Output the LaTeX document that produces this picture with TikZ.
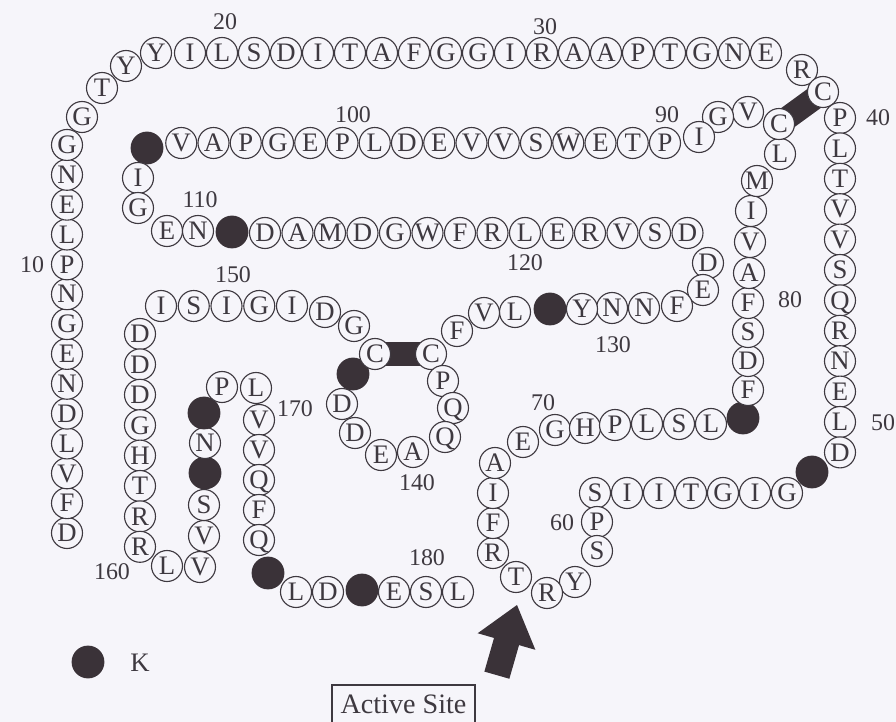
\documentclass[tikz,border=0pt]{standalone}
\usepackage{fontspec}
\setmainfont{Liberation Serif}
\usetikzlibrary{positioning}
\definecolor{paper}{RGB}{246,245,250}
\definecolor{ink}{RGB}{62,57,64}
\definecolor{dotfill}{RGB}{58,50,56}
\pgfdeclarelayer{back}
\pgfsetlayers{back,main}

\begin{document}
\begin{tikzpicture}[
  x=0.25mm,
  y=-0.25mm,
  res/.style={
    circle,
    draw=ink,
    fill=paper,
    line width=0.28mm,
    minimum size=7.75mm,
    inner sep=0pt,
    text=ink,
    font=\fontsize{19}{19}\selectfont,
    text height=4.4mm,
    text depth=0pt
  },
  lys/.style={
    circle,
    fill=dotfill,
    minimum size=8.2mm,
    inner sep=0pt
  },
  num/.style={
    text=ink,
    inner sep=0pt,
    font=\fontsize{17}{17}\selectfont
  },
  site/.style={
    draw=ink,
    line width=0.3mm,
    minimum width=35.75mm,
    minimum height=9.5mm,
    inner sep=0pt,
    text=ink,
    font=\fontsize{20}{20}\selectfont
  },
  ssbond/.style={
    line width=5.8mm,
    draw=dotfill
  },
  pointer/.style={
    fill=dotfill
  }
]

\begin{pgfonlayer}{back}
\fill[paper] (0,0) rectangle (896,722);
\end{pgfonlayer}
\useasboundingbox (0,0) rectangle (896,722);

% =========================================================
% Chain, residues 1-59
% =========================================================

% ---------------- N-terminal column ----------------
\foreach \n/\aa in {1/D,2/F,3/V,4/L,5/D,6/N,7/E,8/G,9/N,10/P,11/L,12/E,13/N,14/G}
  \node[res] (r\n) at (67,{533-(\n-1)*29.85}) {\aa};

\foreach \n/\aa/\x/\y in {15/G/82/117,16/T/102/88,17/Y/126/66,18/Y/156/53}
  \node[res] (r\n) at (\x,\y) {\aa};

% ---------------- top row ----------------
\foreach \n/\aa in {19/I,20/L,21/S,22/D,23/I,24/T,25/A,26/F,27/G,28/G,29/I,
                    30/R,31/A,32/A,33/P,34/T,35/G,36/N,37/E}
  \node[res] (r\n) at ({190+(\n-19)*32},53) {\aa};

\node[res] (r38) at (802,70) {R};
\node[res] (r39) at (823,92) {C};

% ---------------- right column ----------------
\foreach \n/\aa in {40/P,41/L,42/T,43/V,44/V,45/S,46/Q,47/R,48/N,49/E,50/L,51/D}
  \node[res] (r\n) at (840,{118+(\n-40)*30.4}) {\aa};

\node[lys] (r52) at (812,472) {};

\foreach \n/\aa in {53/G,54/I,55/G,56/T,57/I,58/I,59/S}
  \node[res] (r\n) at ({787-(\n-53)*32},493) {\aa};

% =========================================================
% Active site loop, residues 60-89
% =========================================================

\foreach \n/\aa/\x/\y in {60/P/597/522,61/S/597/551,62/Y/575/582,63/R/547/593,
                          64/T/516/577,65/R/493/553,66/F/493/523,67/I/493/493,
                          68/A/495/463,69/E/523/442,70/G/555/430,71/H/585/428,
                          72/P/615/425,73/L/647/424,74/S/679/424,75/L/711/424}
  \node[res] (r\n) at (\x,\y) {\aa};

\node[lys] (r76) at (743,418) {};

\foreach \n/\aa/\x/\y in {77/F/748/390,78/D/748/361,79/S/748/332,80/F/748/303,
                          81/A/749/273,82/V/750/242,83/I/751/211,84/M/757/181,
                          85/L/780/154,86/C/779/124,87/V/748/112,88/G/718/117,
                          89/I/699/137}
  \node[res] (r\n) at (\x,\y) {\aa};

% =========================================================
% Inner rows, residues 90-135
% =========================================================

\foreach \n/\aa in {90/P,91/T,92/E,93/W,94/S,95/V,96/V,97/E,98/D,99/L,
                    100/P,101/E,102/G,103/P,104/A,105/V}
  \node[res] (r\n) at ({665-(\n-90)*32.25},143) {\aa};

\node[lys] (r106) at (147,148) {};

\foreach \n/\aa/\x/\y in {107/I/138/178,108/G/138/208,109/E/167/231,110/N/198/231}
  \node[res] (r\n) at (\x,\y) {\aa};

\node[lys] (r111) at (232,232) {};

\foreach \n/\aa in {112/D,113/A,114/M,115/D,116/G,117/W,118/F,119/R,120/L,
                    121/E,122/R,123/V,124/S,125/D}
  \node[res] (r\n) at ({265+(\n-112)*32.5},233) {\aa};

\foreach \n/\aa/\x/\y in {126/D/708/263,127/E/703/290,128/F/677/306,129/N/644/308,
                          130/N/612/308,131/Y/582/309}
  \node[res] (r\n) at (\x,\y) {\aa};

\node[lys] (r132) at (550,309) {};

\foreach \n/\aa/\x/\y in {133/L/515/312,134/V/484/313,135/F/457/331}
  \node[res] (r\n) at (\x,\y) {\aa};

% ---------------- disulfide ring ----------------
\foreach \n/\aa/\x/\y in {136/C/431/354,137/P/443/381,138/Q/453/408,139/Q/445/437,
                          140/A/413/452,141/E/381/455,142/D/355/433,143/D/342/404}
  \node[res] (r\n) at (\x,\y) {\aa};

\node[lys] (r144) at (353,374) {};

\foreach \n/\aa/\x/\y in {145/C/375/354,146/G/354/326,147/D/325/312}
  \node[res] (r\n) at (\x,\y) {\aa};

% =========================================================
% C-terminal hairpins, residues 148-181
% =========================================================

\foreach \n/\aa in {148/I,149/G,150/I,151/S,152/I}
  \node[res] (r\n) at ({292-(\n-148)*32.75},306) {\aa};

\foreach \n/\aa in {153/D,154/D,155/D,156/G,157/H,158/T,159/R,160/R}
  \node[res] (r\n) at (140,{334+(\n-153)*30.4}) {\aa};

\foreach \n/\aa/\x/\y in {161/L/167/566,162/V/200/567,163/V/204/536,164/S/204/505}
  \node[res] (r\n) at (\x,\y) {\aa};

\node[lys] (r165) at (205,473) {};
\node[res] (r166) at (205,443) {N};
\node[lys] (r167) at (204,413) {};

\node[res] (r168) at (222,387) {P};
\node[res] (r169) at (256,388) {L};

\foreach \n/\aa in {170/V,171/V,172/Q,173/F,174/Q}
  \node[res] (r\n) at (259,{420+(\n-170)*30}) {\aa};

\node[lys] (r175) at (268,573) {};
\node[res] (r176) at (296,592) {L};
\node[res] (r177) at (328,592) {D};
\node[lys] (r178) at (362,590) {};
\node[res] (r179) at (394,592) {E};
\node[res] (r180) at (426,592) {S};
\node[res] (r181) at (458,592) {L};

% ---------------- disulfide bonds ----------------
\begin{pgfonlayer}{back}
\draw[ssbond] (r39.center) -- (r86.center);
\draw[ssbond] (r136.center) -- (r145.center);
\end{pgfonlayer}

% ---------------- residue numbers ----------------
\foreach \t/\x/\y in {10/32/265,20/225/22,30/545/27,40/878/118,50/883/423,
                      60/562/523,70/543/403,80/790/300,90/667/115,100/353/115,
                      110/200/200,120/525/263,130/613/345,140/417/483,
                      150/233/275,160/112/572,170/295/409,180/427/558}
  \node[num] (lab\t) at (\x,\y) {\t};

% =========================================================
% Legend and active site
% =========================================================

\node[lys] (keydot) at (88,662) {};
\node[num, font=\fontsize{19}{19}\selectfont] (keytext) at (140,663) {K};

\coordinate (tip) at (517,605);
\fill[pointer, shift={(tip)}, rotate=74]
  (0,0) -- (-38,30) -- (-38,13) -- (-73,13) -- (-73,-13) -- (-38,-13) -- (-38,-30) -- cycle;

\node[site] (site) at (403.5,704) {Active Site};

\end{tikzpicture}
\end{document}
